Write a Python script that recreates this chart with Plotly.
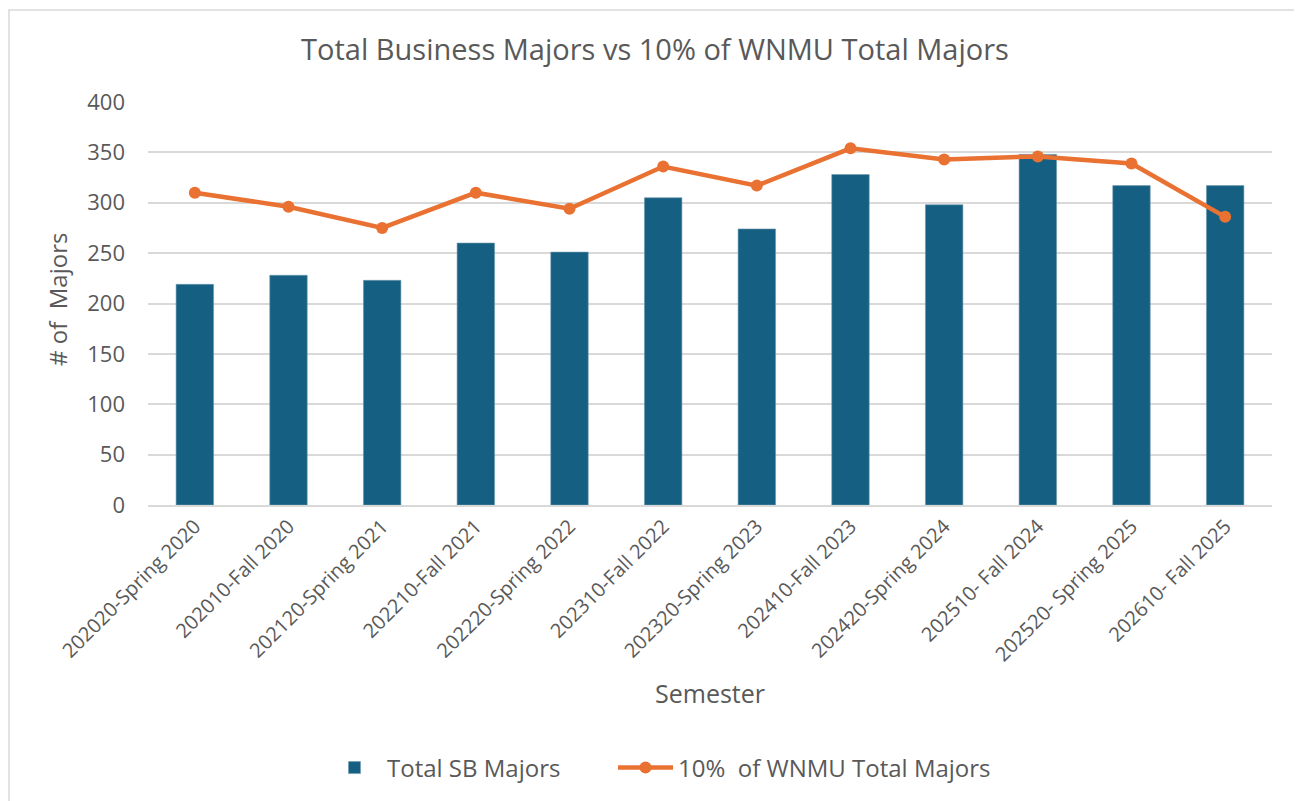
import plotly.graph_objects as go

semesters = [
    "202020-Spring 2020", "202010-Fall 2020", "202120-Spring 2021", "202210-Fall 2021",
    "202220-Spring 2022", "202310-Fall 2022", "202320-Spring 2023", "202410-Fall 2023",
    "202420-Spring 2024", "202510- Fall 2024", "202520- Spring 2025", "202610- Fall 2025",
]
total_sb_majors = [219, 228, 223, 260, 251, 305, 274, 328, 298, 348, 317, 317]
ten_pct_wnmu = [310, 296, 275, 310, 294, 336, 317, 354, 343, 346, 339, 286]
y_ticks = [0, 50, 100, 150, 200, 250, 300, 350, 400]

OFF = 8  # page body margin
W, H = 1302 - OFF, 801 - OFF
# plot area in page pixels: x 148..1272, y 102..505
L, R, T, B = 148 - OFF, 1302 - 1272, 102 - OFF, 801 - 505
PW, PH = W - L - R, H - T - B

def px_x(x):
    return (x - OFF - L) / PW

def px_y(y):
    return (H - B - (y - OFF)) / PH

TXT = "#595959"
FONT = "Open Sans"

fig = go.Figure()
fig.add_trace(go.Bar(
    x=semesters, y=total_sb_majors, name="Total SB Majors",
    marker=dict(color="#156082", line=dict(color="#6f98ad", width=0.6)),
    legendwidth=221,
))
fig.add_trace(go.Scatter(
    x=semesters, y=ten_pct_wnmu, name="10%  of WNMU Total Majors",
    mode="lines+markers",
    line=dict(color="#E97132", width=4.5),
    marker=dict(color="#E97132", size=12),
    legendwidth=400,
))

fig.update_layout(
    width=W, height=H,
    margin=dict(l=L, r=R, t=T, b=B),
    paper_bgcolor="white", plot_bgcolor="white",
    bargap=0.6,
    title=dict(text="Total Business Majors vs 10% of WNMU Total Majors",
               font=dict(family=FONT, size=29, color=TXT),
               x=(655 - OFF) / W, xanchor="center", xref="container",
               y=1 - (50 - OFF) / H, yanchor="middle", yref="container"),
    showlegend=True,
    legend=dict(orientation="h", x=px_x(322), xanchor="left",
                y=1 - (768 - OFF) / H, yanchor="middle", yref="container",
                font=dict(family=FONT, size=24, color=TXT),
                itemwidth=55, tracegroupgap=0),
    xaxis=dict(tickangle=-45, tickfont=dict(family=FONT, size=20, color=TXT),
               range=[-0.5, len(semesters) - 0.5],
               showgrid=False, showline=True, linecolor="#D9D9D9", linewidth=1.5,
               ticks="", ticklen=0, automargin=False),
    yaxis=dict(range=[0, 400], tickvals=y_ticks, ticktext=[str(v) for v in y_ticks],
               tickfont=dict(family=FONT, size=22, color=TXT),
               showgrid=True, gridcolor="#D9D9D9", gridwidth=1.5,
               zeroline=False, showline=False, ticks="", ticklabelstandoff=22,
               automargin=False),
    annotations=[
        dict(text="# of  Majors", textangle=-90, x=px_x(57), y=px_y(300),
             xref="paper", yref="paper", showarrow=False,
             font=dict(family=FONT, size=24, color=TXT),
             xanchor="center", yanchor="middle"),
        dict(text="Semester", x=px_x(710), y=px_y(693),
             xref="paper", yref="paper", showarrow=False,
             font=dict(family=FONT, size=25, color=TXT),
             xanchor="center", yanchor="middle"),
    ],
    shapes=[
        dict(type="rect", xref="paper", yref="paper",
             x0=px_x(9), x1=px_x(1298), y0=px_y(806), y1=px_y(10),
             line=dict(color="#D9D9D9", width=1.5), fillcolor="rgba(0,0,0,0)",
             layer="below"),
    ],
)

fig.write_html("out.html")
